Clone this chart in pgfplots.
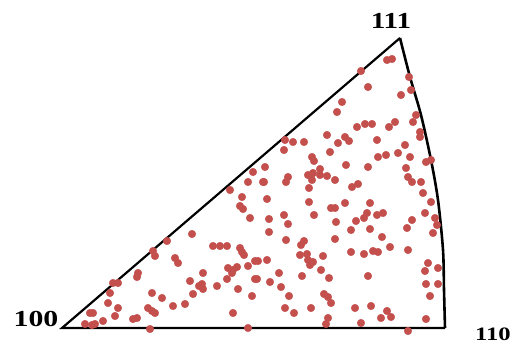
\documentclass[border=0pt]{standalone}
\usepackage{fontspec}
\setmainfont{Liberation Serif}
\usepackage{pgfplots}
\pgfplotsset{compat=1.18}
\definecolor{dotred}{RGB}{196,80,78}
\begin{document}
\begin{tikzpicture}
\begin{axis}[
  width=516bp, height=342bp, scale only axis,
  xmin=0, xmax=516, ymin=0, ymax=342, y dir=reverse,
  hide axis, clip=false,
]
\path (rel axis cs:0,0) rectangle (rel axis cs:1,1);
% triangle boundary
\addplot[black, line width=2.2pt, no markers] coordinates {(445,328) (62,328) (400,38)};
\addplot[black, line width=2.6pt, no markers, smooth] coordinates {(400,38) (410,77) (421,115) (431,160) (438,200) (443,250) (444,290) (445,328)};
% data points
\addplot[only marks, mark=*, mark size=3.8pt, color=dotred, mark options={draw=dotred, fill=dotred}] coordinates {
(387,60) (392,59) (361,71) (409,77) (368,87) (411,90) (401,95) (342,102) (337,112) (416,115)
(413,122) (357,127) (365,124) (372,124) (389,127) (395,122) (420,132) (420,137) (285,140) (293,142)
(304,142) (284,150) (327,135) (338,143) (345,137) (349,141) (377,140) (405,145) (330,152) (312,157)
(314,161) (378,157) (386,155) (398,153) (410,157) (426,162) (431,160) (265,167) (320,169) (346,165)
(368,167) (406,168) (253,172)
(408,177) (412,182) (421,182) (423,193) (370,203) (431,202) (377,215) (383,213) (425,213) (356,221)
(364,218) (367,213) (412,220) (435,218) (437,225) (407,228)
(264,182) (288,177) (286,182) (311,176) (320,175) (327,176) (308,175) (313,173) (312,180) (335,180)
(358,184) (352,187) (309,188) (267,199) (309,202) (331,208) (335,208) (345,203) (284,215) (288,224)
(314,215) (336,222) (269,219) (269,232) (370,229) (351,230) (433,233)
(248,182) (263,182) (230,190) (242,197) (240,206) (243,209) (250,218)
(286,240) (301,245) (304,241) (335,239) (382,237) (390,247) (351,252) (364,254) (373,251) (378,252)
(408,250) (300,255) (307,254) (308,260) (313,262) (310,265) (323,256) (321,270) (258,261) (267,260)
(279,273) (302,276) (329,278) (368,276) (428,263) (425,271) (438,268) (270,282) (281,287) (426,284)
(438,284) (430,296) (289,296) (324,294) (328,297) (331,303) (285,308) (294,313) (311,308) (355,308)
(371,306) (387,311) (391,317) (381,318) (361,323) (328,318) (326,324) (426,319) (408,331) (257,279)
(192,234) (167,241) (153,251) (155,256) (213,246) (220,246) (227,246) (240,248) (242,252) (244,255)
(175,258) (178,263) (255,261) (138,273) (137,277) (113,283) (118,283) (228,268) (233,270) (237,267)
(232,273) (248,266) (203,273) (190,281) (199,286) (203,289) (202,284) (217,286) (227,279) (238,289)
(255,279) (252,296) (193,294) (152,293) (162,298) (110,293) (108,303) (118,308) (115,316) (148,308)
(152,311) (173,306) (185,304) (133,319) (137,318) (103,321) (90,313) (93,313) (85,324) (92,325)
(95,324) (150,329) (233,313) (248,328) (155,313)
};
\node[font=\fontsize{23}{24}\selectfont\bfseries, xscale=1.3] at (axis cs:36,319) {100};
\node[font=\fontsize{23}{24}\selectfont\bfseries, xscale=1.27] at (axis cs:391,21) {111};
\node[font=\fontsize{19}{20}\selectfont\bfseries, xscale=1.3] at (axis cs:493,334) {110};
\end{axis}
\end{tikzpicture}
\end{document}
